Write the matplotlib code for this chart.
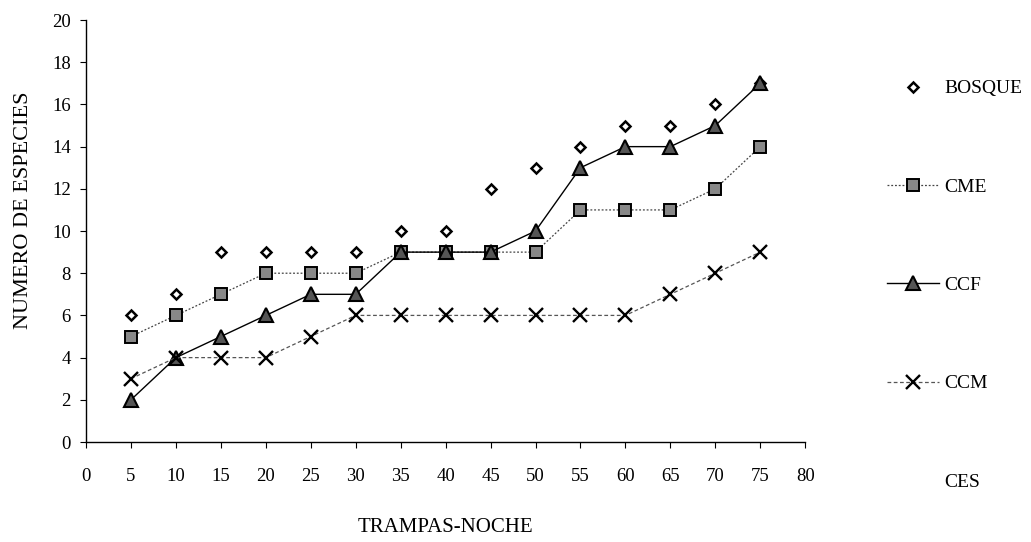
import matplotlib
matplotlib.use("Agg")
import matplotlib.pyplot as plt
from matplotlib.lines import Line2D

plt.rcParams['font.family'] = ['Liberation Serif', 'DejaVu Serif']

trampas = [5, 10, 15, 20, 25, 30, 35, 40, 45, 50, 55, 60, 65, 70, 75]
bosque = [6, 7, 9, 9, 9, 9, 10, 10, 12, 13, 14, 15, 15, 16, 17]
cme = [5, 6, 7, 8, 8, 8, 9, 9, 9, 9, 11, 11, 11, 12, 14]
ccf = [2, 4, 5, 6, 7, 7, 9, 9, 9, 10, 13, 14, 14, 15, 17]
ccm = [3, 4, 4, 4, 5, 6, 6, 6, 6, 6, 6, 6, 7, 8, 9]
x_ticks = list(range(0, 81, 5))
y_ticks = list(range(0, 21, 2))

fig = plt.figure(figsize=(10.31, 5.42), dpi=100)
ax = fig.add_axes([0.0834, 0.1845, 0.6976, 0.7785])

ax.plot(trampas, bosque, linestyle='none', marker='D', markersize=5,
        markerfacecolor='white', markeredgecolor='black', markeredgewidth=1.8,
        label='BOSQUE')
ax.plot(trampas, cme, linestyle=(0, (1.5, 1.5)), color='#444444', linewidth=0.9,
        marker='s', markersize=9, markerfacecolor='#888888',
        markeredgecolor='black', markeredgewidth=1.4, label='CME')
ax.plot(trampas, ccf, linestyle='-', color='black', linewidth=1.0,
        marker='^', markersize=10, markerfacecolor='#555555',
        markeredgecolor='black', markeredgewidth=1.5, label='CCF')
ax.plot(trampas, ccm, linestyle=(0, (3, 2)), color='#555555', linewidth=0.9,
        marker='x', markersize=10, markeredgecolor='black',
        markeredgewidth=1.7, label='CCM')
ces_handle = Line2D([], [], linestyle='none', marker='none', label='CES')

ax.set_xlim(0, 80)
ax.set_ylim(0, 20)
ax.set_xticks(x_ticks)
ax.set_yticks(y_ticks)
ax.tick_params(axis='both', direction='out', length=4, width=0.8,
               labelsize=13.5)
ax.tick_params(axis='x', pad=15)
ax.tick_params(axis='y', pad=7)
for side in ('top', 'right'):
    ax.spines[side].set_visible(False)
for side in ('left', 'bottom'):
    ax.spines[side].set_linewidth(1.0)

ax.set_xlabel('TRAMPAS-NOCHE', fontsize=15)
ax.set_ylabel('NUMERO DE ESPECIES', fontsize=16)
ax.xaxis.set_label_coords(0.5, -0.18)
ax.yaxis.set_label_coords(-0.074, 0.55)

handles, labels = ax.get_legend_handles_labels()
handles.append(ces_handle)
labels.append('CES')
fig.legend(handles, labels, loc='upper left', bbox_to_anchor=(0.843, 0.885),
           frameon=False, fontsize=14, labelspacing=4.15, handlelength=2.7,
           handletextpad=0.25)

fig.savefig('out.png', dpi=100)
